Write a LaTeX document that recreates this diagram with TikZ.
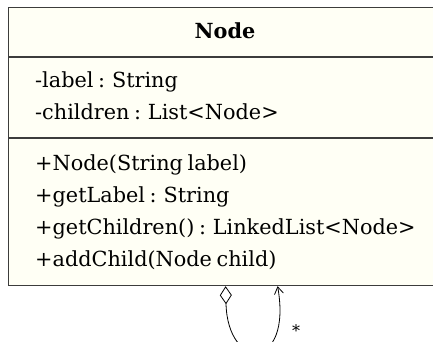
\documentclass[tikz,border=0pt]{standalone}
\usepackage{fontspec}
\setmainfont{DejaVu Serif}[WordSpace=0.7]
\usetikzlibrary{arrows.meta}
\definecolor{classfill}{RGB}{255,255,245}
\definecolor{classline}{RGB}{60,60,60}
\tikzset{
  classbox/.style={draw=classline, line width=1.2pt, fill=classfill},
  member/.style={anchor=base west, inner sep=0pt, font=\fontsize{20.8}{24}\selectfont},
  classtitle/.style={anchor=base, inner sep=0pt, font=\fontsize{20.8}{24}\selectfont\bfseries},
  assoc/.style={line width=0.8pt},
}
\begin{document}
\begin{tikzpicture}[x=1pt,y=-1pt]
\useasboundingbox (0,0) rectangle (433,342);
% class box with its two compartment dividers
\node[classbox, minimum width=434pt, minimum height=278pt, inner sep=0pt, anchor=north west] (cls) at (8,7) {};
\draw[classline, line width=1.2pt] (8,57) -- (442,57);
\draw[classline, line width=1.2pt] (8,138) -- (442,138);
% name compartment
\node[classtitle] (title) at (225,39) {Node};
% attributes
\node[member] (a1) at (35,88) {-label : String};
\node[member] (a2) at (35,120) {-children : List<Node>};
% operations
\node[member] (m1) at (35,170) {+Node(String label)};
\node[member] (m2) at (35,202) {+getLabel : String};
\node[member] (m3) at (35,234) {+getChildren() : LinkedList<Node>};
\node[member] (m4) at (35,266) {+addChild(Node child)};
% self aggregation loop
\coordinate (src) at (cls.south);
\coordinate (dst) at ([xshift=52pt]cls.south);
\draw[assoc, {Diamond[open, length=18pt, width=12pt, line width=0.8pt]}-{Straight Barb[length=7pt,width=9pt]}]
  (src) .. controls ([shift={(2,85)}]src) and ([shift={(15,85)}]dst) .. (dst);
\node[inner sep=0pt, font=\fontsize{16}{18}\selectfont] (mult) at (296,331) {*};
\end{tikzpicture}
\end{document}
